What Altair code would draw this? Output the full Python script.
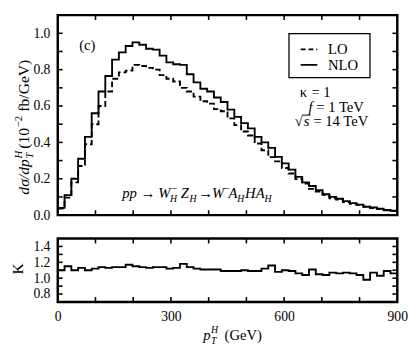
import altair as alt
import pandas as pd

FONT = "Liberation Serif"

# ---------------- data ----------------
pt_edges = [0, 18, 36, 54, 72, 90, 108, 126, 144, 162,
            180, 198, 216, 234, 252, 270, 288, 306, 324, 342,
            360, 378, 396, 414, 432, 450, 468, 486, 504, 522,
            540, 558, 576, 594, 612, 630, 648, 666, 684, 702,
            720, 738, 756, 774, 792, 810, 828, 846, 864, 882, 900]

nlo_vals = [0.040, 0.110, 0.200, 0.310, 0.430, 0.560, 0.680, 0.765, 0.855, 0.895,
            0.930, 0.950, 0.937, 0.915, 0.910, 0.877, 0.840, 0.830, 0.826, 0.775,
            0.730, 0.695, 0.680, 0.647, 0.622, 0.580, 0.540, 0.506, 0.477, 0.430,
            0.400, 0.370, 0.320, 0.285, 0.250, 0.210, 0.180, 0.160, 0.137, 0.115,
            0.100, 0.090, 0.077, 0.066, 0.058, 0.046, 0.042, 0.035, 0.028, 0.024]

lo_vals = [0.036, 0.096, 0.180, 0.270, 0.390, 0.500, 0.600, 0.680, 0.750, 0.785,
           0.795, 0.826, 0.820, 0.810, 0.800, 0.770, 0.750, 0.735, 0.700, 0.680,
           0.652, 0.626, 0.613, 0.583, 0.571, 0.532, 0.495, 0.460, 0.438, 0.394,
           0.357, 0.319, 0.296, 0.259, 0.229, 0.198, 0.173, 0.144, 0.130, 0.111,
           0.093, 0.085, 0.072, 0.062, 0.056, 0.047, 0.039, 0.034, 0.026, 0.023]

k_vals = [1.10, 1.15, 1.10, 1.13, 1.10, 1.12, 1.14, 1.13, 1.14, 1.14,
          1.17, 1.15, 1.14, 1.13, 1.14, 1.14, 1.12, 1.13, 1.18, 1.14,
          1.12, 1.11, 1.11, 1.11, 1.09, 1.09, 1.09, 1.10, 1.09, 1.09,
          1.12, 1.16, 1.08, 1.10, 1.09, 1.06, 1.04, 1.11, 1.05, 1.04,
          1.07, 1.06, 1.07, 1.06, 1.04, 0.98, 1.07, 1.03, 1.09, 1.06]

series_names = ["LO", "NLO"]

x_tick_values = [100, 200, 300, 400, 500, 600, 700, 800]
x_label_values = [0, 300, 600, 900]
y_ticks_main = [0.1, 0.2, 0.3, 0.4, 0.5, 0.6, 0.7, 0.8, 0.9, 1.0]
y_label_main = [0.0, 0.2, 0.4, 0.6, 0.8, 1.0]
y_ticks_k = [0.8, 0.9, 1.0, 1.1, 1.2, 1.3, 1.4]
y_label_k = [0.8, 1.0, 1.2, 1.4]

# ---------------- layout ----------------
W = 348
H1 = 205
H2 = 65
TICK = 5


def step_rows(values, name):
    rows = [{"pt": pt_edges[i], "v": values[i], "series": name} for i in range(len(values))]
    rows.append({"pt": pt_edges[len(values)], "v": values[-1], "series": name})
    return rows


main_df = pd.DataFrame(step_rows(lo_vals, series_names[0]) + step_rows(nlo_vals, series_names[1]))
k_df = pd.DataFrame(step_rows(k_vals, "K"))

x_scale = alt.Scale(domain=[0, 900], nice=False, zero=False)
y_scale_main = alt.Scale(domain=[0, 1.1], nice=False, zero=False)
y_scale_k = alt.Scale(domain=[0.7, 1.5], nice=False, zero=False)


def label_axis(orient, values, fmt, pad):
    return alt.Axis(orient=orient, values=values, format=fmt, domain=False, grid=False,
                    ticks=False, labels=True, title=None, minExtent=0,
                    labelFont=FONT, labelFontSize=14, labelColor="black",
                    labelPadding=pad, labelFlush=False, labelOverlap=False)


def x_ticks(height):
    df = pd.DataFrame({"t": x_tick_values})
    base = alt.Chart(df).mark_rule(color="black", strokeWidth=1.6)
    top_t = base.encode(x=alt.X("t:Q", scale=x_scale, axis=None),
                        y=alt.value(0), y2=alt.value(TICK))
    bot_t = base.encode(x=alt.X("t:Q", scale=x_scale, axis=None),
                        y=alt.value(height - TICK), y2=alt.value(height))
    return [top_t, bot_t]


def y_ticks(values, scale):
    df = pd.DataFrame({"t": values})
    base = alt.Chart(df).mark_rule(color="black", strokeWidth=1.6)
    left_t = base.encode(y=alt.Y("t:Q", scale=scale, axis=None),
                         x=alt.value(0), x2=alt.value(TICK))
    right_t = base.encode(y=alt.Y("t:Q", scale=scale, axis=None),
                          x=alt.value(W - TICK), x2=alt.value(W))
    return [left_t, right_t]


def texts(rows, size, style="normal", angle=0, align="left"):
    df = pd.DataFrame(rows, columns=["t", "px", "py"])
    return alt.Chart(df).mark_text(
        font=FONT, fontSize=size, fontStyle=style, angle=angle, align=align,
        baseline="alphabetic", color="black"
    ).encode(
        x=alt.X("px:Q", scale=None, axis=None),
        y=alt.Y("py:Q", scale=None, axis=None),
        text="t:N",
    )


def hrule(x1, x2, y, dash=None, width=1.8):
    df = pd.DataFrame({"x1": [x1], "x2": [x2], "y": [y]})
    kw = dict(color="black", strokeWidth=width)
    if dash is not None:
        kw["strokeDash"] = dash
    return alt.Chart(df).mark_rule(**kw).encode(
        x=alt.X("x1:Q", scale=None, axis=None),
        x2="x2:Q",
        y=alt.Y("y:Q", scale=None, axis=None),
    )


# ---------------- top panel ----------------
top_lines = alt.Chart(main_df).mark_line(
    interpolate="step-after", color="black", strokeWidth=1.9
).encode(
    x=alt.X("pt:Q", scale=x_scale, axis=None),
    y=alt.Y("v:Q", scale=y_scale_main, axis=label_axis("left", y_label_main, ".1f", 8)),
    strokeDash=alt.StrokeDash("series:N",
                              scale=alt.Scale(domain=series_names, range=[[6, 3], [1, 0]]),
                              legend=None),
)

# legend box
legend_box = alt.Chart(pd.DataFrame({"a": [0]})).mark_rect(
    fill="white", stroke="black", strokeWidth=1.3
).encode(
    x=alt.value(237), x2=alt.value(320), y=alt.value(19), y2=alt.value(64)
)
legend_lo = hrule(249, 266, 35, dash=[5, 3])
legend_nlo = hrule(249, 266, 51)
legend_labels = texts([(series_names[0], 277, 40), (series_names[1], 277, 56)], 15)

label_c = texts([("(c)", 22, 36)], 15)
params_up = texts([("κ", 248, 84), ("= 1", 260, 84),
                   ("= 1 TeV", 265, 99),
                   ("√", 243, 114), ("= 14 TeV", 262, 114)], 15)
params_it = texts([("f", 257, 99), ("s", 252, 114)], 15, style="italic")
sqrt_bar = hrule(251, 259, 102.5, width=1)

PB = 187.5
proc_main = texts([("pp", 66, PB), ("W", 103, PB), ("Z", 126, PB),
                   ("W", 158, PB), ("A", 175, PB), ("H", 192, PB),
                   ("A", 203, PB)], 15, style="italic")
proc_arrows = texts([("→", 85, PB), ("→", 144, PB)], 15)
proc_sub = texts([("H", 115, PB + 4), ("H", 135, PB + 4), ("H", 184, PB + 4),
                  ("H", 212, PB + 4)], 10, style="italic")
proc_sup = texts([("−", 116, PB - 6), ("−", 170, PB - 6)], 11)

# rotated y title (reads bottom to top)
YB = -29
yt_it = texts([("dσ/dp", YB, 184)], 16, style="italic", angle=270)
yt_sub = texts([("T", YB + 4, 147)], 11, style="italic", angle=270)
yt_sup_it = texts([("H", YB - 8, 147)], 11, style="italic", angle=270)
yt_up = texts([("(10", YB, 137), ("fb/GeV)", YB, 99)], 16, angle=270)
yt_sup = texts([("−2", YB - 8, 115)], 11, angle=270)

top = alt.layer(
    top_lines, *x_ticks(H1), *y_ticks(y_ticks_main, y_scale_main),
    legend_box, legend_lo, legend_nlo, legend_labels,
    label_c, params_up, params_it, sqrt_bar,
    proc_main, proc_arrows, proc_sub, proc_sup,
    yt_it, yt_sub, yt_sup_it, yt_up, yt_sup,
).resolve_axis(x="independent", y="independent").properties(width=W, height=H1)

# ---------------- bottom panel ----------------
k_line = alt.Chart(k_df).mark_line(
    interpolate="step-after", color="black", strokeWidth=1.9
).encode(
    x=alt.X("pt:Q", scale=x_scale, axis=label_axis("bottom", x_label_values, "d", 8)),
    y=alt.Y("v:Q", scale=y_scale_k, axis=label_axis("left", y_label_k, ".1f", 8)),
)
XB = H2 + 39
k_title = texts([("K", -36, 31)], 16, angle=270, align="center")
xt_it = texts([("p", 149, XB)], 15, style="italic")
xt_sub = texts([("T", 157, XB + 4)], 10, style="italic")
xt_sup = texts([("H", 157, XB - 7)], 10, style="italic")
xt_up = texts([("(GeV)", 171, XB)], 15)

bottom = alt.layer(
    k_line, *x_ticks(H2), *y_ticks(y_ticks_k, y_scale_k),
    k_title, xt_it, xt_sub, xt_sup, xt_up
).resolve_axis(x="independent", y="independent").properties(width=W, height=H2)

chart = alt.vconcat(top, bottom, spacing=12).properties(
    padding=0
).configure_view(stroke="black", strokeWidth=2.5)

chart.save("out.html", embed_options={"renderer": "svg", "actions": False})
